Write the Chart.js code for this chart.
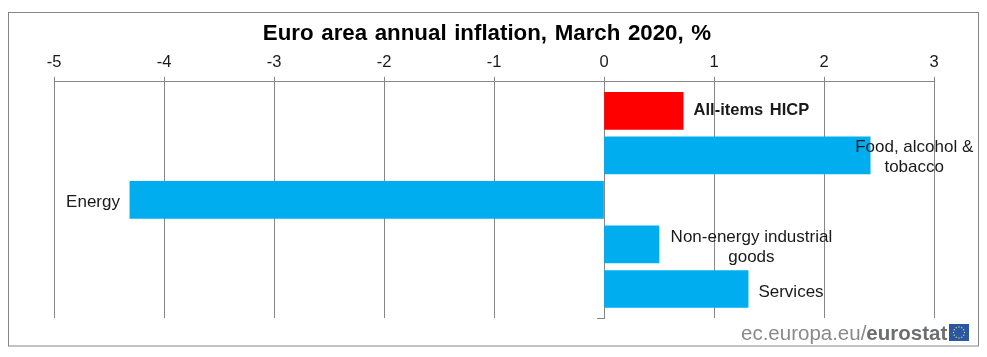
<!DOCTYPE html>
<html><head><meta charset="utf-8">
<style>html,body{margin:0;padding:0;background:#fff}#w{position:relative;width:987px;height:357px}</style>
<script src="https://cdn.jsdelivr.net/npm/chart.js@4"></script>
</head><body><div id="w"><canvas id="c" width="987" height="357"></canvas></div>
<script>
const titleText = 'Euro area annual inflation, March 2020, %';
const categories = ['All-items HICP', 'Food, alcohol & tobacco', 'Energy', 'Non-energy industrial goods', 'Services'];
const values = [0.72, 2.42, -4.31, 0.5, 1.31];
const barColors = ['#ff0000', '#00aeef', '#00aeef', '#00aeef', '#00aeef'];
const xTicks = [-5, -4, -3, -2, -1, 0, 1, 2, 3];
const labelLines = [['All-items HICP'], ['Food, alcohol &', 'tobacco'], ['Energy'], ['Non-energy industrial', 'goods'], ['Services']];
const labelAnchorsX = [1.34, 2.82, -4.645, 1.34, 1.70];
const labelBold = [true, false, false, false, false];
const labelLineShiftY = [0, 2, 2, 3, 3];

const GREY = '#868686', TEXT = '#1a1a1a';
const deco = {
  id: 'deco',
  beforeDraw(ch) {
    const c = ch.ctx; c.save();
    c.fillStyle = '#fff'; c.fillRect(0, 0, 987, 357);
    c.strokeStyle = GREY; c.lineWidth = 1; c.strokeRect(8.5, 12.5, 970, 333.5);
    c.restore();
  },
  afterDraw(ch) {
    const c = ch.ctx, xs = ch.scales.x, ys = ch.scales.y;
    c.save();
    c.fillStyle = '#000'; c.textAlign = 'center'; c.textBaseline = 'alphabetic';
    c.font = 'bold 22.3px "Liberation Sans"';
    c.wordSpacing = '1.4px';
    c.fillText(titleText, 487, 40);
    c.fillStyle = TEXT;
    categories.forEach((cat, i) => {
      c.font = (labelBold[i] ? 'bold 16.5px' : '17px') + ' "Liberation Sans"';
      c.wordSpacing = labelBold[i] ? '2px' : '0px';
      c.textBaseline = 'middle';
      const lines = labelLines[i];
      const cy = ys.getPixelForValue(i) + labelLineShiftY[i];
      lines.forEach((ln, k) => {
        c.fillText(ln, xs.getPixelForValue(labelAnchorsX[i]), cy + (k - (lines.length - 1) / 2) * 20);
      });
    });
    // source line
    c.textBaseline = 'alphabetic'; c.textAlign = 'left'; c.wordSpacing = '0px';
    c.fillStyle = '#8a8a8a'; c.font = '20.5px "Liberation Sans"';
    const a = 'ec.europa.eu/';
    c.fillText(a, 741, 340);
    const w = c.measureText(a).width;
    c.fillStyle = '#6d6e70'; c.font = 'bold 20.5px "Liberation Sans"';
    c.fillText('eurostat', 741 + w, 340);
    // flag
    c.fillStyle = '#2a56a6'; c.fillRect(949, 324, 20, 17);
    c.fillStyle = '#e8d44a';
    for (let i = 0; i < 12; i++) {
      const t = i * Math.PI / 6;
      c.beginPath(); c.arc(959 + 5.5 * Math.cos(t), 332.5 + 5.5 * Math.sin(t), 0.7, 0, 7); c.fill();
    }
    c.restore();
  }
};
new Chart(document.getElementById('c'), {
  type: 'bar',
  plugins: [deco],
  data: {
    datasets: [{
      data: values.map((v, i) => ({ x: v, y: i })),
      backgroundColor: barColors,
      borderWidth: 0,
      barThickness: 37
    }]
  },
  options: {
    indexAxis: 'y',
    responsive: false,
    animation: false,
    layout: { padding: { left: 54, right: 53, top: 49, bottom: 39 } },
    plugins: { legend: { display: false }, title: { display: false }, tooltip: { enabled: false } },
    scales: {
      x: {
        type: 'linear', position: 'top', min: -5, max: 3,
        afterBuildTicks(s) { s.ticks = xTicks.map(v => ({ value: v })); },
        grid: { color: GREY, lineWidth: 1, tickLength: 5, drawTicks: true },
        border: { color: GREY },
        ticks: { color: TEXT, font: { family: '"Liberation Sans"', size: 16.5 }, padding: 4, maxRotation: 0, autoSkip: false }
      },
      y: {
        type: 'linear', reverse: true, min: -0.652, max: 4.652, offset: false,
        position: { x: 0 },
        afterBuildTicks(s) { s.ticks = [{ value: s.max }]; },
        grid: { color: GREY, drawOnChartArea: false, tickLength: 7, offset: false },
        border: { color: GREY },
        ticks: { display: false }
      }
    }
  }
});
</script></body></html>
